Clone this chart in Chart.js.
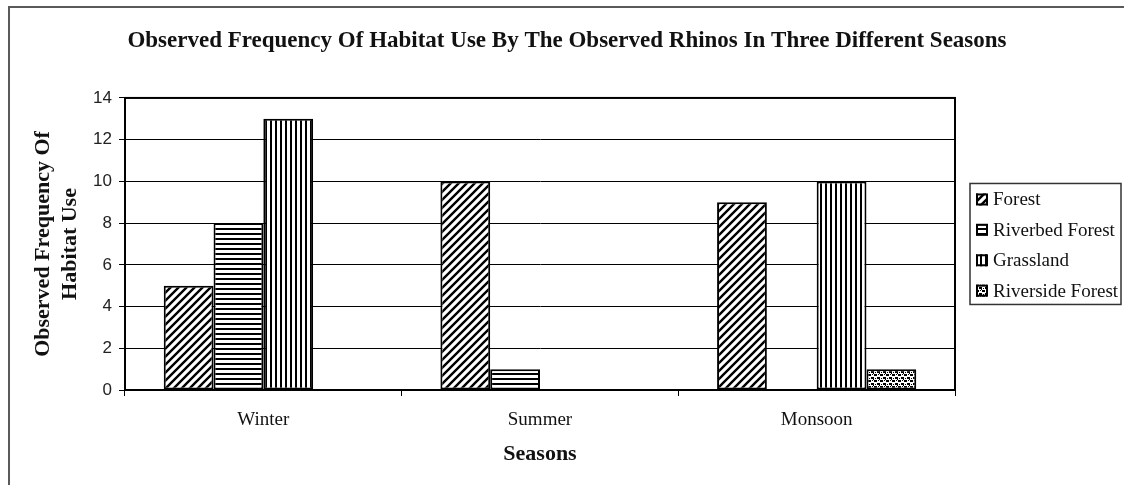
<!DOCTYPE html>
<html>
<head>
<meta charset="utf-8">
<script src="https://cdn.jsdelivr.net/npm/chart.js@4.4.0/dist/chart.umd.min.js"></script>
<style>
  html, body { margin: 0; padding: 0; background: #fff; }
  #frame {
    position: absolute; left: 8px; top: 6px;
    width: 1114px; height: 477px;
    border-left: 2px solid #5a5a5a; border-top: 2px solid #5a5a5a;
  }
</style>
</head>
<body>
<div id="frame"><canvas id="habitatChart"></canvas></div>
<script>
const seasons = ['Winter', 'Summer', 'Monsoon'];
const forest = [5, 10, 9];
const riverbedForest = [8, 1, 0];
const grassland = [13, 0, 10];
const riversideForest = [0, 0, 1];
const yMin = 0, yMax = 14, yStep = 2;

const serif = "'Liberation Serif', 'Times New Roman', serif";
const sans = "'Liberation Sans', Arial, sans-serif";

// black & white fill patterns like the old Excel chart
function makePattern(w, h, draw) {
  const c = document.createElement('canvas');
  c.width = w; c.height = h;
  const g = c.getContext('2d');
  g.fillStyle = '#fff';
  g.fillRect(0, 0, w, h);
  g.fillStyle = '#000';
  g.strokeStyle = '#000';
  draw(g);
  return g.createPattern(c, 'repeat');
}

const diagonal = makePattern(8, 8, (g) => {
  g.lineWidth = 2.4;
  g.beginPath();
  g.moveTo(-2, 10); g.lineTo(10, -2);
  g.moveTo(-2, 2); g.lineTo(2, -2);
  g.moveTo(6, 10); g.lineTo(10, 6);
  g.stroke();
});
const horizontal = makePattern(4, 5, (g) => { g.fillRect(0, 0, 4, 2); });
const vertical = makePattern(5, 4, (g) => { g.fillRect(0, 0, 2, 4); });
const dotted = makePattern(6, 6, (g) => {
  g.fillRect(0, 0, 3, 2);
  g.fillRect(3, 3, 3, 2);
  g.fillRect(4, 0, 1, 1);
  g.fillRect(1, 4, 1, 1);
  g.fillRect(5, 5, 1, 1);
});

const series = [
  { label: 'Forest', data: forest, backgroundColor: diagonal },
  { label: 'Riverbed Forest', data: riverbedForest, backgroundColor: horizontal },
  { label: 'Grassland', data: grassland, backgroundColor: vertical },
  { label: 'Riverside Forest', data: riversideForest, backgroundColor: dotted }
];

function drawLegend(chart, box) {
  const ctx = chart.ctx;
  const area = chart.chartArea;
  const left = box.left + 15;
  const width = 151;
  const height = 121;
  const top = (area.top + area.bottom) / 2 - height / 2;
  ctx.save();
  ctx.lineWidth = 1.5;
  ctx.strokeStyle = '#333';
  ctx.strokeRect(left, top, width, height);
  ctx.font = '19px ' + serif;
  ctx.textBaseline = 'middle';
  ctx.textAlign = 'left';
  chart.data.datasets.forEach((ds, i) => {
    const y = top + 16 + i * 30.4;
    ctx.fillStyle = ds.backgroundColor;
    ctx.fillRect(left + 6, y - 6, 12, 12);
    ctx.lineWidth = 2;
    ctx.strokeStyle = '#000';
    ctx.strokeRect(left + 7, y - 5, 10, 10);
    ctx.fillStyle = '#111';
    ctx.fillText(ds.label, left + 23, y + 1);
  });
  ctx.restore();
}

const legendBox = {
  id: 'legendBox',
  beforeInit(chart) {
    Chart.layouts.addBox(chart, {
      position: 'right',
      weight: 0,
      fullSize: false,
      options: {},
      isHorizontal() { return false; },
      update(maxWidth, maxHeight) { this.width = 169; this.height = maxHeight; },
      draw() { drawLegend(chart, this); }
    });
  }
};

const plotFrame = {
  id: 'plotFrame',
  afterDatasetsDraw(chart) {
    const { ctx, chartArea: a } = chart;
    ctx.save();
    ctx.lineWidth = 2;
    ctx.strokeStyle = '#000';
    ctx.strokeRect(a.left, a.top, a.right - a.left, a.bottom - a.top);
    ctx.restore();
  }
};

const chart = new Chart(document.getElementById('habitatChart'), {
  type: 'bar',
  data: {
    labels: seasons,
    datasets: series.map((s) => ({
      ...s,
      borderColor: '#000',
      borderWidth: 2,
      borderSkipped: false,
      categoryPercentage: 0.72,
      barPercentage: 1
    }))
  },
  plugins: [legendBox, plotFrame],
  options: {
    responsive: true,
    maintainAspectRatio: false,
    animation: false,
    devicePixelRatio: 1,
    layout: { padding: 0 },
    plugins: {
      legend: { display: false },
      tooltip: { enabled: false },
      title: {
        display: true,
        text: 'Observed Frequency Of Habitat Use By The Observed Rhinos In Three Different Seasons',
        color: '#111',
        font: { family: serif, size: 23, weight: 'bold', lineHeight: 1.15 },
        padding: { top: 20, bottom: 43.5 }
      }
    },
    scales: {
      x: {
        offset: true,
        grid: { display: true, drawOnChartArea: false, offset: true, color: '#000', lineWidth: 1, tickLength: 6 },
        border: { display: true, color: '#000', width: 2 },
        ticks: { color: '#111', font: { family: serif, size: 19 }, padding: 13 },
        title: {
          display: true,
          text: 'Seasons',
          color: '#111',
          font: { family: serif, size: 22, weight: 'bold', lineHeight: 1.15 },
          padding: { top: 0, bottom: 18 }
        },
        afterFit: (scale) => { scale.height = 95; }
      },
      y: {
        min: yMin,
        max: yMax,
        ticks: { stepSize: yStep, color: '#222', font: { family: sans, size: 17 }, padding: 7 },
        grid: { color: '#000', lineWidth: 1, tickLength: 6 },
        border: { color: '#000', width: 2 },
        title: {
          display: true,
          text: ['Observed Frequency Of', 'Habitat Use'],
          color: '#111',
          font: { family: serif, size: 22, weight: 'bold', lineHeight: 1.22 },
          padding: { top: 20, bottom: 0 }
        },
        afterFit: (scale) => { scale.width = 115; }
      }
    }
  }
});
</script>
</body>
</html>
